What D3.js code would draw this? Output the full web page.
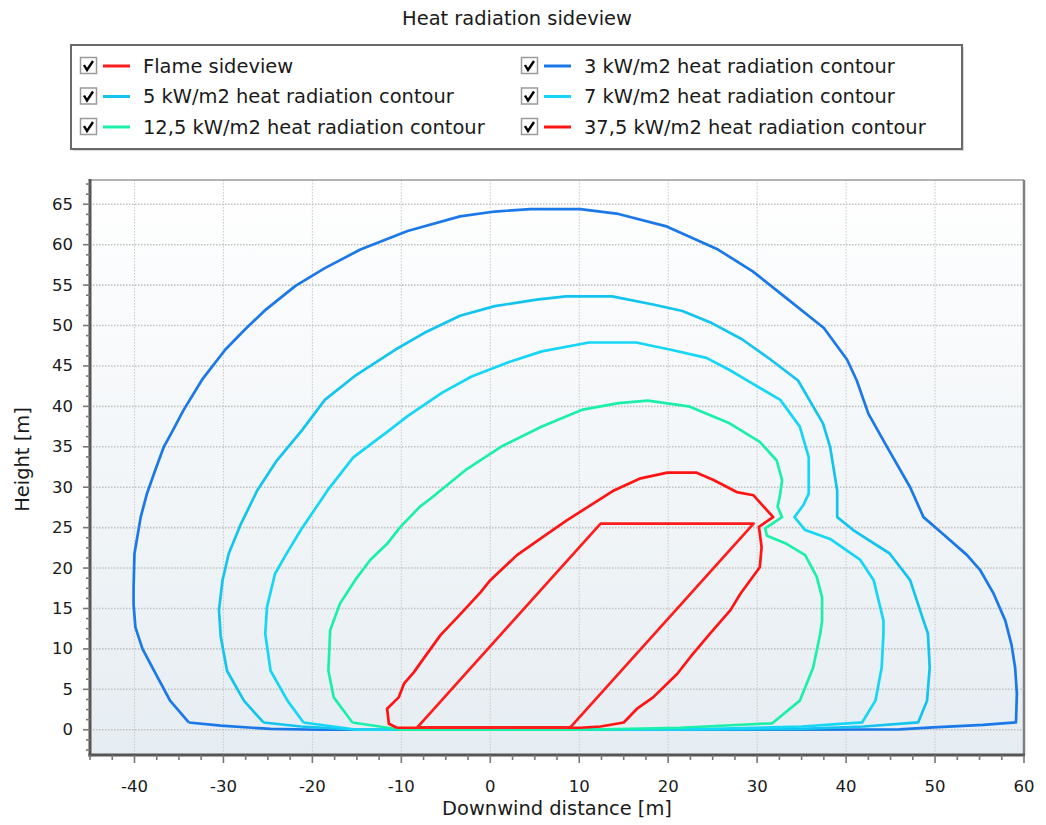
<!DOCTYPE html>
<html><head><meta charset="utf-8">
<script src="https://cdn.jsdelivr.net/npm/d3@7"></script>
<style>
html,body{margin:0;padding:0;background:#fff;}
text{font-family:"DejaVu Sans",sans-serif;fill:#1a1a1a;}
</style></head>
<body><svg id="chart" width="1046" height="825"></svg>
<script>
// ---- data ----
const chartTitle = "Heat radiation sideview";
const xLabel = "Downwind distance [m]";
const yLabel = "Height [m]";
const xTicks = [-40,-30,-20,-10,0,10,20,30,40,50,60];
const yTicks = [0,5,10,15,20,25,30,35,40,45,50,55,60,65];
const seriesNames = ["Flame sideview","3 kW/m2 heat radiation contour","5 kW/m2 heat radiation contour","7 kW/m2 heat radiation contour","12,5 kW/m2 heat radiation contour","37,5 kW/m2 heat radiation contour"];

const flameSideview = [[-8.2,0.3],[12.4,25.5],[29.6,25.5],[9.0,0.3],[-8.2,0.3]];

const contour3 = [[-33.9,0.9],[-36.0,3.6],[-37.8,7.3],[-39.1,10.0],[-39.9,12.7],[-40.1,15.5],[-40.1,17.6],[-40.0,21.8],[-39.3,26.3],[-38.6,29.2],[-37.8,31.7],[-36.7,35.0],[-35.7,37.0],[-34.5,39.5],[-32.4,43.3],[-29.8,47.0],[-27.5,49.6],[-25.2,52.0],[-21.9,54.9],[-18.6,57.1],[-14.6,59.4],[-9.3,61.7],[-3.4,63.5],[0.5,64.1],[4.5,64.4],[10.1,64.4],[14.4,63.8],[19.7,62.3],[25.6,59.4],[29.5,56.7],[33.5,53.2],[37.5,49.7],[40.1,45.8],[41.2,43.2],[42.5,39.1],[44.6,35.0],[47.2,30.0],[48.7,26.3],[50.6,24.5],[53.6,21.6],[55.1,19.7],[56.6,16.8],[57.9,13.5],[58.6,10.5],[59.0,7.7],[59.2,4.5],[59.1,0.9],[55.4,0.6],[49.8,0.3],[46.0,0.05],[30.0,0],[-19.1,0],[-24.7,0.1],[-30.3,0.5],[-33.9,0.9]];

const contour5 = [[-25.5,0.9],[-27.7,3.6],[-29.6,7.3],[-30.3,11.5],[-30.5,14.8],[-30.1,18.5],[-29.4,21.8],[-28.1,25.3],[-26.2,29.6],[-24.0,33.3],[-21.2,37.0],[-18.6,40.8],[-15.3,43.7],[-10.7,47.0],[-7.4,49.1],[-3.4,51.2],[0.5,52.4],[5.2,53.2],[8.5,53.6],[13.7,53.6],[18.3,52.6],[21.6,51.8],[24.9,50.3],[28.3,48.3],[31.5,45.8],[34.6,43.2],[37.4,37.9],[38.2,35.0],[39.0,29.6],[39.0,26.3],[40.8,24.7],[44.9,21.8],[47.2,18.5],[48.7,13.5],[49.2,11.9],[49.4,7.7],[49.1,3.6],[48.1,0.9],[42.0,0.4],[35.0,0.1],[20.0,0],[-15.0,0],[-21.3,0.4],[-25.5,0.9]];

const contour7 = [[-21.0,0.9],[-22.8,3.6],[-24.7,7.3],[-25.3,11.9],[-25.1,15.2],[-24.2,19.3],[-23.0,21.6],[-21.3,24.7],[-18.3,29.6],[-15.4,33.7],[-11.4,37.0],[-9.3,38.8],[-5.4,41.7],[-2.1,43.7],[1.9,45.4],[5.8,46.8],[11.1,47.9],[16.4,47.9],[20.3,47.0],[24.3,46.0],[26.9,44.5],[29.2,43.0],[32.6,40.8],[34.8,37.5],[35.8,33.7],[35.8,29.2],[35.2,27.8],[34.2,26.3],[35.4,24.7],[38.2,23.6],[41.6,21.0],[43.1,18.5],[44.2,13.5],[44.2,11.9],[44.0,7.7],[43.3,3.6],[41.8,0.9],[35.0,0.4],[25.0,0.1],[10.0,0],[-15.0,0],[-21.0,0.9]];

const contour12_5 = [[-15.5,0.9],[-17.6,4.0],[-18.2,7.3],[-18.0,12.3],[-16.9,15.6],[-15.2,18.5],[-13.5,21.0],[-11.6,23.0],[-10.1,25.1],[-7.9,27.6],[-6.7,28.6],[-2.8,32.1],[1.2,35.0],[5.8,37.5],[10.4,39.6],[14.4,40.4],[17.7,40.7],[22.3,40.0],[26.9,37.9],[30.3,35.6],[32.2,33.3],[32.8,30.9],[32.6,29.2],[32.3,27.6],[32.8,26.3],[30.9,24.9],[31.1,24.0],[33.3,23.0],[35.4,21.6],[36.7,18.9],[37.3,16.4],[37.3,13.5],[37.1,11.9],[36.3,7.7],[34.8,3.6],[31.7,0.8],[28.8,0.65],[21.3,0.25],[10.0,0],[-10.0,0],[-15.5,0.9]];

const contour37_5 = [[-10.5,0.25],[-11.4,0.74],[-11.6,2.6],[-10.3,4.0],[-9.7,5.7],[-8.6,7.1],[-7.5,8.8],[-5.6,11.7],[-3.7,13.9],[-1.1,17.0],[0.0,18.5],[3.0,21.6],[5.6,23.6],[8.6,25.9],[11.6,28.0],[13.9,29.6],[16.9,31.1],[19.9,31.8],[23.2,31.8],[25.1,30.9],[27.7,29.4],[29.6,29.0],[31.8,26.3],[30.2,25.1],[30.5,22.6],[30.3,20.1],[28.1,16.8],[27.0,14.8],[24.7,11.9],[22.5,9.0],[21.0,6.9],[18.3,4.0],[16.5,2.6],[15.0,0.9],[12.4,0.4],[10.1,0.25],[-10.5,0.25]];

const seriesColors = ["#ff1c1c","#1a78e8","#12c4ee","#16d6f6","#1cf0a8","#ff1414"];

// ---- chart ----
const svg = d3.select("#chart");
const L=90, R=1024, T=180, B=755;
const x = d3.scaleLinear().domain([-45,60]).range([L,R]);
const y = d3.scaleLinear().domain([-3,68]).range([B-1,T]);

function fitSize(sample, target){
  const t = svg.append("text").style("font-size","20px").text(sample);
  const w = t.node().getComputedTextLength();
  t.remove();
  return 20*target/w;
}
const fs = fitSize(seriesNames[4], 342);
const fsTick = fitSize("-40", 27);

const defs = svg.append("defs");
const grad = defs.append("linearGradient").attr("id","bg").attr("x1",0).attr("y1",0).attr("x2",0).attr("y2",1);
grad.append("stop").attr("offset","0%").attr("stop-color","#ffffff");
grad.append("stop").attr("offset","100%").attr("stop-color","#e6edf2");
defs.append("clipPath").attr("id","clip").append("rect").attr("x",L).attr("y",T).attr("width",R-L).attr("height",B-T);

svg.append("rect").attr("x",L).attr("y",T).attr("width",R-L).attr("height",B-T).attr("fill","url(#bg)");

// grid
const g = svg.append("g").attr("clip-path","url(#clip)");
g.selectAll(".vg").data(xTicks).join("line")
 .attr("x1",d=>x(d)).attr("x2",d=>x(d)).attr("y1",T).attr("y2",B)
 .attr("stroke","#c9c9c9").attr("stroke-width",1).attr("stroke-dasharray","1.5,1.5");
g.selectAll(".hg").data(yTicks).join("line")
 .attr("x1",L).attr("x2",R).attr("y1",d=>y(d)).attr("y2",d=>y(d))
 .attr("stroke","#c2c2c2").attr("stroke-width",1.6).attr("stroke-dasharray","1.5,1.5");

// series
const line = d3.line().x(d=>x(d[0])).y(d=>y(d[1]));
const drawOrder = [
 {data:contour3,c:seriesColors[1]},
 {data:contour5,c:seriesColors[2]},
 {data:contour7,c:seriesColors[3]},
 {data:contour12_5,c:seriesColors[4]},
 {data:contour37_5,c:seriesColors[5]},
 {data:flameSideview,c:seriesColors[0]}
];
g.selectAll(".series").data(drawOrder).join("path")
 .attr("d",d=>line(d.data)).attr("fill","none").attr("stroke",d=>d.c)
 .attr("stroke-width",2.7).attr("stroke-linejoin","round");

// frame
svg.append("line").attr("x1",L).attr("x2",R).attr("y1",T).attr("y2",T).attr("stroke","#9a9a9a").attr("stroke-width",1.5);
svg.append("line").attr("x1",R).attr("x2",R).attr("y1",T).attr("y2",B).attr("stroke","#808080").attr("stroke-width",2.5);
svg.append("line").attr("x1",L).attr("x2",L).attr("y1",T-1).attr("y2",B+1.5).attr("stroke","#555").attr("stroke-width",3);
svg.append("line").attr("x1",L-1.5).attr("x2",R+1).attr("y1",B).attr("y2",B).attr("stroke","#555").attr("stroke-width",3);

// ticks
const xMinor = d3.range(-45,60.01,2.5);
svg.selectAll(".xmt").data(xMinor).join("line")
 .attr("x1",d=>x(d)).attr("x2",d=>x(d)).attr("y1",B).attr("y2",d=>(d%10===0)?B+8:B+5)
 .attr("stroke","#777").attr("stroke-width",1.6);
const yMinor = d3.range(-2.5,68,1.25);
svg.selectAll(".ymt").data(yMinor).join("line")
 .attr("y1",d=>y(d)).attr("y2",d=>y(d)).attr("x1",L).attr("x2",d=>(Math.abs(d%5)<1e-6)?L-7:L-4)
 .attr("stroke","#777").attr("stroke-width",1.6);

svg.selectAll(".xl").data(xTicks).join("text")
 .attr("x",d=>x(d)).attr("y",786).attr("text-anchor","middle").attr("dominant-baseline","central")
 .style("font-size",fsTick+"px").text(d=>d);
svg.selectAll(".yl").data(yTicks).join("text")
 .attr("x",73).attr("y",d=>y(d)).attr("text-anchor","end").attr("dominant-baseline","central")
 .style("font-size",fsTick+"px").text(d=>d);

svg.append("text").attr("x",(L+R)/2).attr("y",808).attr("text-anchor","middle").attr("dominant-baseline","central")
 .style("font-size",fs+"px").text(xLabel);
svg.append("text").attr("transform","translate(22,"+((T+B)/2-8)+") rotate(-90)").attr("text-anchor","middle").attr("dominant-baseline","central")
 .style("font-size",fs+"px").text(yLabel);
svg.append("text").attr("x",517).attr("y",18).attr("text-anchor","middle").attr("dominant-baseline","central")
 .style("font-size",fs+"px").text(chartTitle);

// legend
const lg = svg.append("g");
lg.append("rect").attr("x",73).attr("y",47).attr("width",891).attr("height",104).attr("fill","#d8d8d8");
lg.append("rect").attr("x",71).attr("y",45).attr("width",891).attr("height",104).attr("fill","#fff").attr("stroke","#6a6a6a").attr("stroke-width",2);
const legendItems = [
 {name:seriesNames[0],c:seriesColors[0],col:0,row:0},
 {name:seriesNames[1],c:seriesColors[1],col:1,row:0},
 {name:seriesNames[2],c:seriesColors[2],col:0,row:1},
 {name:seriesNames[3],c:seriesColors[3],col:1,row:1},
 {name:seriesNames[4],c:seriesColors[4],col:0,row:2},
 {name:seriesNames[5],c:seriesColors[5],col:1,row:2}
];
const colX=[80,521], rowY=[66,96.5,127];
const it = lg.selectAll(".li").data(legendItems).join("g")
 .attr("transform",d=>`translate(${colX[d.col]},${rowY[d.row]})`);
it.append("rect").attr("x",0.5).attr("y",-8.5).attr("width",16).attr("height",16).attr("fill","#fff").attr("stroke","#9a9a9a").attr("stroke-width",1.5);
it.append("path").attr("d","M4,-1 L7,4 L13,-5").attr("fill","none").attr("stroke","#000").attr("stroke-width",2.4);
it.append("line").attr("x1",23).attr("x2",50).attr("y1",0).attr("y2",0).attr("stroke",d=>d.c).attr("stroke-width",3);
it.append("text").attr("x",63).attr("y",0).attr("dominant-baseline","central").style("font-size",fs+"px").text(d=>d.name);
</script></body></html>
